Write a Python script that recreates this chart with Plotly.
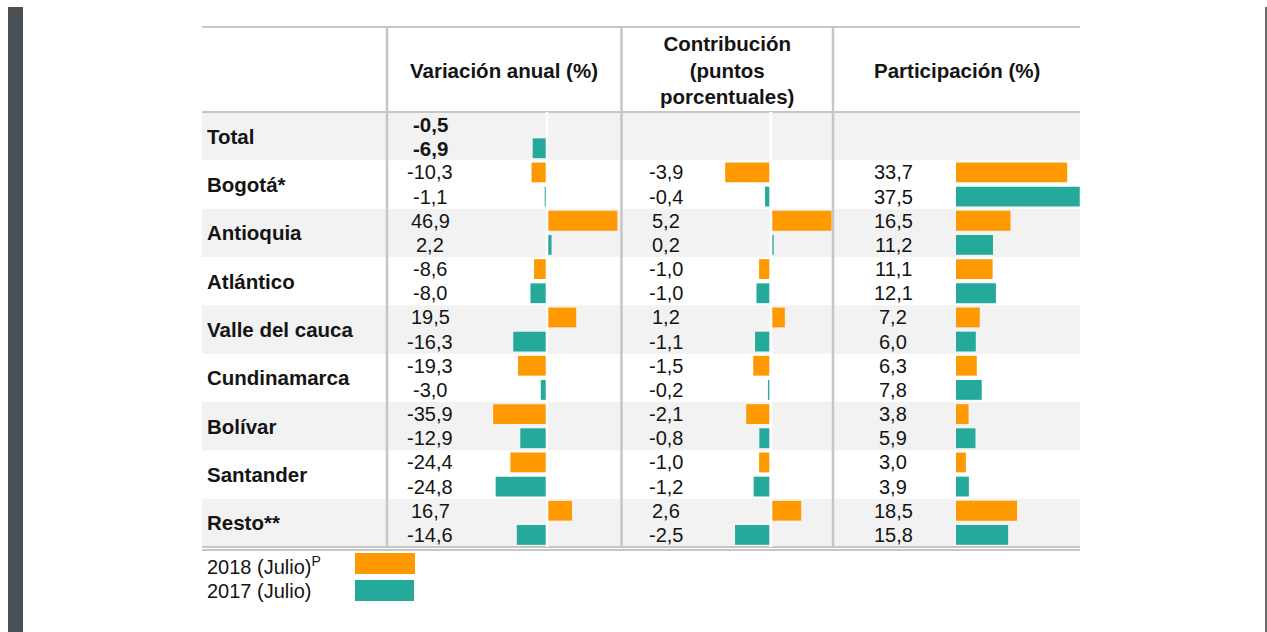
import plotly.graph_objects as go

# ---------------- data ----------------
regions = ["Total", "Bogotá*", "Antioquia", "Atlántico", "Valle del cauca",
           "Cundinamarca", "Bolívar", "Santander", "Resto**"]
var_2018 = [-0.5, -10.3, 46.9, -8.6, 19.5, -19.3, -35.9, -24.4, 16.7]
var_2017 = [-6.9, -1.1, 2.2, -8.0, -16.3, -3.0, -12.9, -24.8, -14.6]
con_2018 = [None, -3.9, 5.2, -1.0, 1.2, -1.5, -2.1, -1.0, 2.6]
con_2017 = [None, -0.4, 0.2, -1.0, -1.1, -0.2, -0.8, -1.2, -2.5]
par_2018 = [None, 33.7, 16.5, 11.1, 7.2, 6.3, 3.8, 3.0, 18.5]
par_2017 = [None, 37.5, 11.2, 12.1, 6.0, 7.8, 5.9, 3.9, 15.8]
headers = ["Variación anual (%)", "Contribución<br>(puntos<br>porcentuales)", "Participación (%)"]
series_names = ["2018 (Julio)<sup>P</sup>", "2017 (Julio)"]

# ---------------- style ----------------
W, H = 1267, 632
ORANGE = "#FF9900"
TEAL = "#25A99A"
SHADE = "#F2F2F2"
GRID = "#C6C6C6"
TXT = "#141414"
FONT = "Arial, Liberation Sans, sans-serif"
FS = 20
FSB = 20.5


def px(x):
    return x / W


def py(y):
    return 1 - y / H


n = len(regions)
y18 = [2 * k + 0.5 for k in range(n)]
y17 = [2 * k + 1.5 for k in range(n)]


def fmt(v):
    return "" if v is None else f"{v:.1f}".replace(".", ",")


fig = go.Figure()
bw = 0.82
fig.add_trace(go.Bar(x=var_2018, y=y18, orientation="h", width=bw, marker_color=ORANGE,
                     xaxis="x", yaxis="y", hoverinfo="skip"))
fig.add_trace(go.Bar(x=var_2017, y=y17, orientation="h", width=bw, marker_color=TEAL,
                     xaxis="x2", yaxis="y", hoverinfo="skip"))
fig.add_trace(go.Bar(x=con_2018, y=y18, orientation="h", width=bw, marker_color=ORANGE,
                     xaxis="x3", yaxis="y", hoverinfo="skip"))
fig.add_trace(go.Bar(x=con_2017, y=y17, orientation="h", width=bw, marker_color=TEAL,
                     xaxis="x4", yaxis="y", hoverinfo="skip"))
fig.add_trace(go.Bar(x=par_2018, y=y18, orientation="h", width=bw, marker_color=ORANGE,
                     xaxis="x5", yaxis="y", hoverinfo="skip"))
fig.add_trace(go.Bar(x=par_2017, y=y17, orientation="h", width=bw, marker_color=TEAL,
                     xaxis="x5", yaxis="y", hoverinfo="skip"))
for tr in fig.data:
    tr.marker.line.width = 0

hidden = dict(visible=False, showgrid=False, zeroline=False, fixedrange=True)
body_top, body_bot = 112, 547
fig.update_layout(
    width=W, height=H, margin=dict(l=0, r=0, t=0, b=0, pad=0),
    paper_bgcolor="white", plot_bgcolor="rgba(0,0,0,0)",
    showlegend=False, barmode="overlay",
    yaxis=dict(domain=[py(body_bot), py(body_top)], range=[2 * n, 0], **hidden),
    xaxis=dict(domain=[px(470), px(620)], range=[(470 - 547) / 1.5, (620 - 547) / 1.5], anchor="y", **hidden),
    xaxis2=dict(overlaying="x", range=[(470 - 547) / 2.07, (620 - 547) / 2.07], anchor="y", **hidden),
    xaxis3=dict(domain=[px(700), px(832)], range=[(700 - 770.8) / 11.7, (832 - 770.8) / 11.7], anchor="y", **hidden),
    xaxis4=dict(overlaying="x3", range=[(700 - 770.8) / 14.3, (832 - 770.8) / 14.3], anchor="y", **hidden),
    xaxis5=dict(domain=[px(956), px(1080)], range=[0, (1080 - 956) / 3.3], anchor="y", **hidden),
)

shapes = []
# left dark bar and right thin border
shapes.append(dict(type="rect", xref="paper", yref="paper", x0=px(8), x1=px(23), y0=0, y1=py(7),
                   fillcolor="#4B5054", line_width=0, layer="below"))
shapes.append(dict(type="line", xref="paper", yref="paper", x0=px(1266), x1=px(1266), y0=0, y1=py(7),
                   line=dict(color="#3A3A3A", width=1.5)))
# shaded rows
for k in range(0, n, 2):
    shapes.append(dict(type="rect", xref="paper", yref="y", x0=px(202), x1=px(1080),
                       y0=2 * k, y1=2 * k + 2, fillcolor=SHADE, line_width=0, layer="below"))
# horizontal rules
for yy in (27, 112, 547, 550):
    shapes.append(dict(type="line", xref="paper", yref="paper", x0=px(202), x1=px(1080),
                       y0=py(yy), y1=py(yy), line=dict(color=GRID, width=2.2)))
# vertical rules
for xx in (387, 621.5, 833):
    shapes.append(dict(type="line", xref="paper", yref="paper", x0=px(xx), x1=px(xx),
                       y0=py(547), y1=py(27), line=dict(color=GRID, width=2.5)))
# white zero gaps
shapes.append(dict(type="line", xref="x", yref="y", x0=0, x1=0, y0=0, y1=2 * n,
                   line=dict(color="white", width=2.6)))
shapes.append(dict(type="line", xref="x3", yref="y", x0=0, x1=0, y0=0, y1=2 * n,
                   line=dict(color="white", width=3)))
# legend swatches
shapes.append(dict(type="rect", xref="paper", yref="paper", x0=px(355), x1=px(415), y0=py(574), y1=py(553),
                   fillcolor=ORANGE, line_width=0))
shapes.append(dict(type="rect", xref="paper", yref="paper", x0=px(355), x1=px(414), y0=py(601), y1=py(580),
                   fillcolor=TEAL, line_width=0))

ann = []


def txt(text, x, y, yref="paper", bold=False, xanchor="center"):
    ann.append(dict(text=f"<b>{text}</b>" if bold else text, x=x, y=y, xref="paper", yref=yref,
                    xanchor=xanchor, yanchor="middle", showarrow=False, align="center",
                    font=dict(family=FONT, size=FSB if bold else FS, color=TXT)))


# headers
txt(headers[0], px(504), py(70), bold=True)
txt(headers[1], px(727), py(70), bold=True)
txt(headers[2], px(957), py(70), bold=True)

# body
for k in range(n):
    txt(regions[k], px(205), 2 * k + 1, yref="y", bold=True, xanchor="left")
    b = (k == 0)
    txt(fmt(var_2018[k]), px(430), y18[k], yref="y", bold=b)
    txt(fmt(var_2017[k]), px(430), y17[k], yref="y", bold=b)
    if con_2018[k] is not None:
        txt(fmt(con_2018[k]), px(666), y18[k], yref="y")
        txt(fmt(con_2017[k]), px(666), y17[k], yref="y")
    if par_2018[k] is not None:
        txt(fmt(par_2018[k]), px(893), y18[k], yref="y")
        txt(fmt(par_2017[k]), px(893), y17[k], yref="y")

# legend text
txt(series_names[0], px(205), py(565), xanchor="left")
txt(series_names[1], px(205), py(591), xanchor="left")

fig.update_layout(shapes=shapes, annotations=ann)
fig.write_html("out.html", config={"displayModeBar": False, "staticPlot": True},
               post_script="document.body.style.margin='0';document.body.style.overflow='hidden';")
